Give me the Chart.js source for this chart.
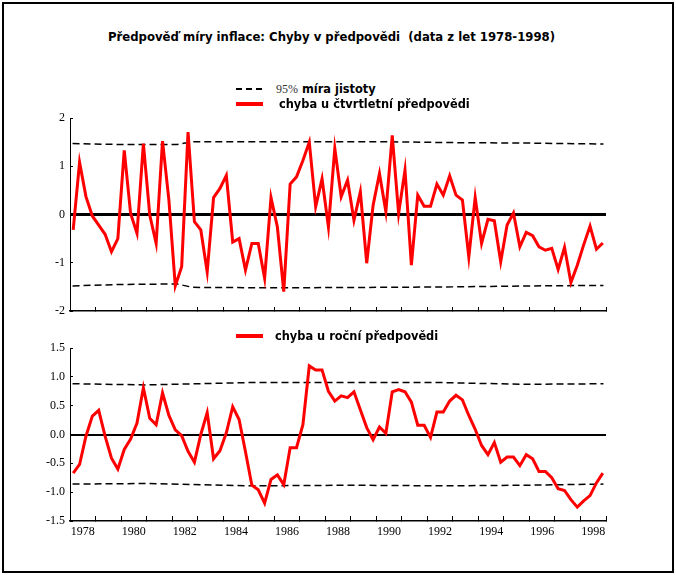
<!DOCTYPE html>
<html>
<head>
<meta charset="utf-8">
<script src="https://cdn.jsdelivr.net/npm/chart.js@4.4.1/dist/chart.umd.min.js"></script>
<style>
  body { margin: 0; background: #fff; }
  #page { position: relative; width: 676px; height: 575px; overflow: hidden; font-family: "DejaVu Sans", sans-serif; }
  canvas { position: absolute; left: 0; }
  #topChart { top: 100px; }
  #bottomChart { top: 330px; }
  #frame { position: absolute; left: 2px; top: 2px; width: 668px; height: 567px; border: 2px solid #000; pointer-events: none; }
  .txt { position: absolute; font-weight: bold; font-size: 11.4px; line-height: 14px; white-space: pre; color: #000; }
  .serif { font-family: "Liberation Serif", serif; font-weight: normal; font-size: 12px; color: #333; }
  .red { position: absolute; left: 236px; width: 27px; height: 4px; background: #f00; }
  #title { left: 0; width: 663px; text-align: center; top: 30px; font-size: 11.7px; }
</style>
</head>
<body>
<div id="page">
  <canvas id="topChart" width="676" height="230"></canvas>
  <canvas id="bottomChart" width="676" height="245"></canvas>
  <div id="title" class="txt">Předpověď míry inflace: Chyby v předpovědi  (data z let 1978-1998)</div>
  <svg style="position:absolute;left:236px;top:87px" width="28" height="4"><line x1="0" y1="2" x2="27" y2="2" stroke="#000" stroke-width="2" stroke-dasharray="6 4"/></svg>
  <div class="txt" style="left:276px;top:82px"><span class="serif">95%</span> míra jistoty</div>
  <div class="red" style="top:102px"></div>
  <div class="txt" style="left:279px;top:97px">chyba u čtvrtletní předpovědi</div>
  <div class="red" style="top:334px"></div>
  <div class="txt" style="left:275px;top:329px">chyba u roční předpovědi</div>
  <div id="frame"></div>
</div>
<script>
// quarterly observations 1978 Q1 .. 1998 Q4
const years = [];
for (let y = 1978; y <= 1998; y++) years.push(y);
const quarters = [];
years.forEach(y => [1, 2, 3, 4].forEach(q => quarters.push({ year: y, q: q })));

// chyba u čtvrtletní předpovědi
const quarterlyError = [
  -0.32, 1.08, 0.37, -0.03, -0.22, -0.41, -0.77, -0.5, 1.33, 0.02,
  -0.39, 1.47, -0.01, -0.6, 1.52, 0.3, -1.48, -1.08, 1.71, -0.15,
  -0.32, -1.19, 0.35, 0.54, 0.81, -0.57, -0.5, -1.15, -0.6, -0.6,
  -1.32, 0.35, -0.26, -1.6, 0.63, 0.78, 1.12, 1.5, 0.16, 0.74,
  -0.26, 1.37, 0.37, 0.71, -0.12, 0.47, -1.01, 0.19, 0.85, 0.06,
  1.64, 0.02, 0.92, -1.05, 0.4, 0.17, 0.17, 0.63, 0.4, 0.8,
  0.4, 0.3, -0.88, 0.35, -0.6, -0.1, -0.13, -0.98, -0.22, 0.03,
  -0.67, -0.37, -0.44, -0.67, -0.74, -0.7, -1.14, -0.68, -1.41, -1.05,
  -0.63, -0.24, -0.72, -0.59
];

// chyba u roční předpovědi
const annualError = [
  -0.67, -0.52, -0.03, 0.32, 0.42, -0.03, -0.41, -0.6, -0.26, -0.08,
  0.2, 0.81, 0.28, 0.17, 0.72, 0.33, 0.08, -0.02, -0.29, -0.48,
  0.0, 0.38, -0.42, -0.28, 0.03, 0.48, 0.26, -0.3, -0.88, -0.96,
  -1.19, -0.78, -0.7, -0.87, -0.23, -0.23, 0.17, 1.19, 1.12, 1.12,
  0.75, 0.58, 0.67, 0.64, 0.74, 0.43, 0.12, -0.09, 0.13, 0.02,
  0.74, 0.78, 0.74, 0.56, 0.16, 0.16, -0.05, 0.39, 0.39, 0.58,
  0.68, 0.6, 0.33, 0.09, -0.19, -0.35, -0.14, -0.48, -0.39, -0.39,
  -0.54, -0.35, -0.42, -0.64, -0.64, -0.75, -0.94, -0.97, -1.13, -1.26,
  -1.15, -1.06, -0.84, -0.67
];

const bandYearsTop = [1978.1, 1980, 1982.2, 1982.8, 1986, 1990, 1993, 1996, 1998.9];
const bandUpperTop = [1.47, 1.45, 1.45, 1.51, 1.51, 1.51, 1.49, 1.48, 1.46];
const bandLowerTop = [-1.48, -1.45, -1.44, -1.51, -1.52, -1.51, -1.5, -1.48, -1.47];

const bandYearsBottom = [1978.1, 1981, 1985, 1989, 1992.6, 1995.8, 1998.9];
const bandUpperBottom = [0.88, 0.86, 0.9, 0.9, 0.9, 0.87, 0.88];
const bandLowerBottom = [-0.86, -0.85, -0.89, -0.88, -0.89, -0.88, -0.86];

const yTicksTop = [-2, -1, 0, 1, 2];
const yTicksBottom = [-1.5, -1, -0.5, 0, 0.5, 1, 1.5];
const yearLabels = [1978, 1980, 1982, 1984, 1986, 1988, 1990, 1992, 1994, 1996, 1998];

const serif = { family: '"Liberation Serif", serif', size: 12 };

function points(values) {
  return values.map((v, i) => ({ x: quarters[i].year + (quarters[i].q - 0.5) / 4, y: v }));
}
function bandPoints(xs, ys) {
  return xs.map((x, i) => ({ x: x, y: ys[i] }));
}

function xAxis(withLabels, height, tickLen) {
  return {
    type: 'linear', min: 1978, max: 1999,
    afterBuildTicks: s => {
      const t = [];
      for (let y = 1978; y <= 1999; y++) t.push(y);
      if (withLabels) yearLabels.forEach(y => t.push(y + 0.5));
      t.sort((a, b) => a - b);
      s.ticks = t.map(v => ({ value: v }));
    },
    afterFit: s => { s.height = height; },
    grid: {
      drawOnChartArea: false, tickLength: tickLen, tickWidth: 1,
      tickColor: ctx => Number.isInteger(ctx.tick.value) ? '#000' : 'rgba(0,0,0,0)'
    },
    border: { color: '#000', width: 1.5 },
    ticks: {
      autoSkip: false, maxRotation: 0, padding: 9, color: '#000', font: serif,
      callback: v => (withLabels && !Number.isInteger(v)) ? String(Math.floor(v)) : ''
    }
  };
}

function yAxis(tickValues, zeroWidth, fmt) {
  return {
    min: tickValues[0], max: tickValues[tickValues.length - 1],
    afterBuildTicks: s => { s.ticks = tickValues.map(v => ({ value: v })); },
    afterFit: s => { s.width = 70; },
    grid: {
      color: ctx => (ctx.tick && ctx.tick.value === 0) ? '#000' : 'rgba(0,0,0,0)',
      lineWidth: ctx => (ctx.tick && ctx.tick.value === 0) ? zeroWidth : 1,
      tickColor: '#000', tickWidth: 1, tickLength: -3
    },
    border: { color: '#000', width: 1 },
    ticks: { padding: 8, color: '#000', font: serif, callback: fmt }
  };
}

function lineSet(data) {
  return { data: data, borderColor: '#ff0000', borderWidth: 3, pointRadius: 0, tension: 0, fill: false };
}
function bandSet(data) {
  return { data: data, borderColor: '#000', borderWidth: 1.5, borderDash: [7, 4], pointRadius: 0, tension: 0, fill: false };
}

new Chart(document.getElementById('topChart'), {
  type: 'line',
  data: {
    datasets: [
      lineSet(points(quarterlyError)),
      bandSet(bandPoints(bandYearsTop, bandUpperTop)),
      bandSet(bandPoints(bandYearsTop, bandLowerTop))
    ]
  },
  options: {
    responsive: false, animation: false, devicePixelRatio: 1,
    layout: { padding: { top: 18, bottom: 9, left: 0, right: 70 } },
    plugins: { legend: { display: false }, tooltip: { enabled: false } },
    scales: {
      x: xAxis(false, 10, -4),
      y: yAxis(yTicksTop, 3, v => String(v))
    }
  }
});

new Chart(document.getElementById('bottomChart'), {
  type: 'line',
  data: {
    datasets: [
      lineSet(points(annualError)),
      bandSet(bandPoints(bandYearsBottom, bandUpperBottom)),
      bandSet(bandPoints(bandYearsBottom, bandLowerBottom))
    ]
  },
  options: {
    responsive: false, animation: false, devicePixelRatio: 1,
    layout: { padding: { top: 18, bottom: 24, left: 0, right: 70 } },
    plugins: { legend: { display: false }, tooltip: { enabled: false } },
    scales: {
      x: xAxis(true, 30, -5),
      y: yAxis(yTicksBottom, 2, v => v.toFixed(1))
    }
  }
});
</script>
</body>
</html>
